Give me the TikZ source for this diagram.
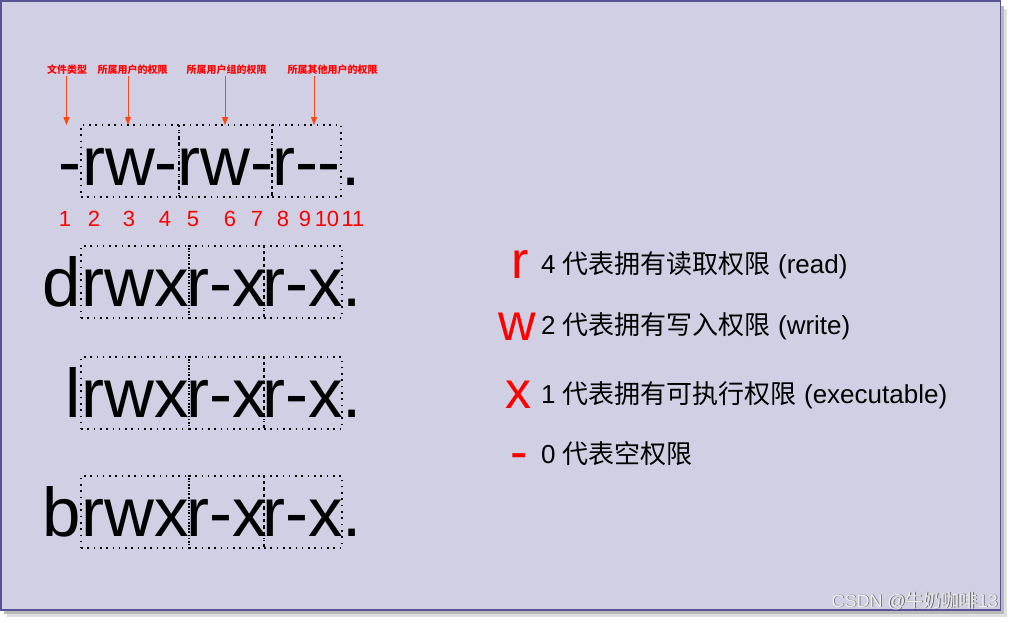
\documentclass[tikz,border=0pt]{standalone}
\usepackage{fontspec}
\setmainfont[Ligatures=NoCommon]{Liberation Sans}
\newfontfamily\cjk{Noto Sans CJK SC}
\usetikzlibrary{arrows.meta}
\definecolor{bgfill}{RGB}{208,207,227}
\definecolor{framec}{RGB}{88,82,150}
\definecolor{arrc}{RGB}{255,72,20}
\definecolor{redc}{RGB}{255,0,0}
\newcommand\gbox[2]{\makebox[#1pt]{#2}}
\begin{document}
\begin{tikzpicture}[x=1pt,y=-1pt,
  big/.style={font=\fontsize{69}{69}\selectfont, inner sep=0pt, outer sep=0pt, text height=60pt, text depth=12pt},
  grp/.style={big, draw=black, line width=1.6pt, dash pattern=on 1.6pt off 4.7pt, anchor=base west},
  pre/.style={big, anchor=base east},
  dot/.style={big, anchor=base west},
  num/.style={font=\fontsize{22}{22}\selectfont, text=redc, inner sep=0pt, anchor=base},
  toplab/.style={font=\cjk\bfseries\fontsize{10}{10}\selectfont, text=redc, inner sep=1pt},
  arr/.style={draw=arrc, line width=1pt, -{Triangle[length=8pt,width=6pt]}},
  key/.style={font=\fontsize{52}{52}\selectfont, text=redc, inner sep=0pt, anchor=base},
  legend/.style={font=\fontsize{26}{26}\selectfont, inner sep=0pt, anchor=base west}
]
\useasboundingbox (0,0) rectangle (1013,622);
% frame with shadow
\fill[gray!25] (7,9) rectangle (1007,617);
\fill[gray!55] (4,6) rectangle (1004,614);
\draw[framec, line width=1.5pt, fill=bgfill] (1,1) rectangle (1000.5,610);

% top labels
\node[toplab] (l1) at (67,70) {文件类型};
\node[toplab] (l2) at (132.5,70) {所属用户的权限};
\node[toplab] (l3) at (226.5,70) {所属用户组的权限};
\node[toplab] (l4) at (332.5,70) {所属其他用户的权限};
\coordinate (a1) at (66.5,125);
\coordinate (a2) at (128,125);
\coordinate (a3) at (225,125);
\coordinate (a4) at (314,125);
\draw[arr] (l1.south -| a1) -- (a1);
\draw[arr] (l2.south -| a2) -- (a2);
\draw[arr] (l3.south -| a3) -- (a3);
\draw[arr] (l4.south -| a4) -- (a4);

% row 1
\node[pre] (p1) at (81,185) {-};
\node[grp] (g11) at (81,185) {\gbox{98}{rw-}};
\node[grp] (g12) at (g11.base east) {\gbox{93}{rw-}};
\node[grp] (g13) at (g12.base east) {\gbox{69}{r-{}-}};
\node[dot] (d1) at (g13.base east) {.};

% numbers
\node[num] (n1) at (65,226) {1};
\node[num] (n2) at (94,226) {2};
\node[num] (n3) at (129,226) {3};
\node[num] (n4) at (165,226) {4};
\node[num] (n5) at (193,226) {5};
\node[num] (n6) at (230,226) {6};
\node[num] (n7) at (257,226) {7};
\node[num] (n8) at (283,226) {8};
\node[num] (n9) at (305,226) {9};
\node[num] (n10) at (327,226) {10};
\node[num] (n11) at (353,226) {11};

% row 2
\node[pre] (p2) at (81,306) {d};
\node[grp] (g21) at (81,306) {\gbox{108}{rwx}};
\node[grp] (g22) at (g21.base east) {\gbox{75}{r-x}};
\node[grp] (g23) at (g22.base east) {\gbox{78}{r-x}};
\node[dot] (d2) at (g23.base east) {.};

% row 3
\node[pre] (p3) at (81,417) {l};
\node[grp] (g31) at (81,417) {\gbox{108}{rwx}};
\node[grp] (g32) at (g31.base east) {\gbox{75}{r-x}};
\node[grp] (g33) at (g32.base east) {\gbox{78}{r-x}};
\node[dot] (d3) at (g33.base east) {.};

% row 4
\node[pre] (p4) at (81,536) {b};
\node[grp] (g41) at (81,536) {\gbox{108}{rwx}};
\node[grp] (g42) at (g41.base east) {\gbox{75}{r-x}};
\node[grp] (g43) at (g42.base east) {\gbox{78}{r-x}};
\node[dot] (d4) at (g43.base east) {.};

% legend
\node[key] (kr) at (520,278) {r};
\node[key] (kw) at (517,340) {w};
\node[key] (kx) at (518,408) {x};
\node[key] (kd) at (519,469) {-};
\node[legend] (t1) at (541,273) {4 {\cjk 代表拥有读取权限} (read)};
\node[legend] (t2) at (541,334) {2 {\cjk 代表拥有写入权限} (write)};
\node[legend] (t3) at (541,403) {1 {\cjk 代表拥有可执行权限} (executable)};
\node[legend] (t4) at (541,463) {0 {\cjk 代表空权限}};

% watermark
\node[font=\fontsize{18}{18}\selectfont, text=gray!80!black, inner sep=0pt, anchor=base east] (wms) at (998.8,607.8) {CSDN @{\cjk 牛奶咖啡}13};
\node[font=\fontsize{18}{18}\selectfont, text=white!85!gray, inner sep=0pt, anchor=base east] (wm) at (998,607) {CSDN @{\cjk 牛奶咖啡}13};
\end{tikzpicture}
\end{document}
